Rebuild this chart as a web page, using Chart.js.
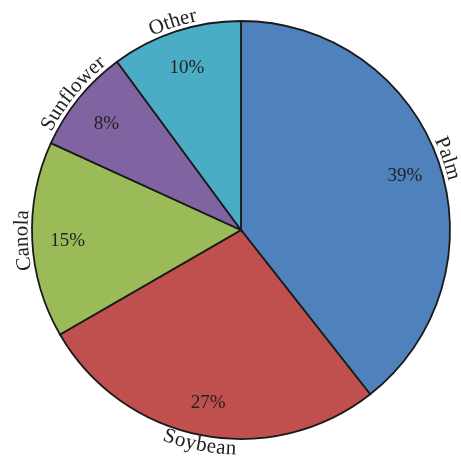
<!DOCTYPE html>
<html>
<head>
<meta charset="utf-8">
<script src="https://cdn.jsdelivr.net/npm/chart.js@4"></script>
<style>
  html, body { margin: 0; padding: 0; background: #fff; }
  #wrap { width: 461px; height: 464px; }
</style>
</head>
<body>
<div id="wrap"><canvas id="myChart" width="461" height="464"></canvas></div>
<script>
const ctx = document.getElementById('myChart').getContext('2d')

// oil shares, percent
const labels = ['Palm', 'Soybean', 'Canola', 'Sunflower', 'Other']
const values = [39, 27, 15, 8, 10]
const colors = ['#4f81bd', '#c0504d', '#9bbb59', '#8064a2', '#4bacc6']

const textColor = '#222'

// percent inside + curved name outside each slice
const sliceLabels = {
    id: 'sliceLabels',
    afterDatasetsDraw(chart) {
        const c = chart.ctx
        const arcs = chart.getDatasetMeta(0).data
        arcs.forEach((arc, i) => {
            const { x, y, startAngle, endAngle, outerRadius } = arc.getProps(['x', 'y', 'startAngle', 'endAngle', 'outerRadius'], true)
            const mid = (startAngle + endAngle) / 2

            c.save()
            c.fillStyle = textColor
            c.textAlign = 'center'
            c.textBaseline = 'middle'
            c.font = '19px "Liberation Serif", serif'
            const rIn = outerRadius * 0.83
            c.fillText(values[i] + '%', x + Math.cos(mid) * rIn, y + Math.sin(mid) * rIn + 3)

            // name along the rim
            c.font = '21px "Liberation Serif", serif'
            const text = labels[i]
            const gap = 0.3
            const r = outerRadius + 10
            const widths = [...text].map(ch => c.measureText(ch).width + gap)
            const total = widths.reduce((a, b) => a + b, 0) - gap
            let a = ((mid % (2 * Math.PI)) + 2 * Math.PI) % (2 * Math.PI)
            const flip = a > 0.2 * Math.PI && a < 0.8 * Math.PI
            let cum = 0
            ;[...text].forEach((ch, k) => {
                const w = widths[k] - gap
                let ang
                if (flip) ang = mid + total / 2 / r - (cum + w / 2) / r
                else ang = mid - total / 2 / r + (cum + w / 2) / r
                c.save()
                c.translate(x + Math.cos(ang) * r, y + Math.sin(ang) * r)
                c.rotate(flip ? ang - Math.PI / 2 : ang + Math.PI / 2)
                c.fillText(ch, 0, 0)
                c.restore()
                cum += widths[k]
            })
            c.restore()
        })
    }
}

const data = {
    labels,
    datasets: [
        {
            data: values,
            backgroundColor: colors,
            borderColor: '#1a1a1a',
            borderWidth: 1.8,
            borderJoinStyle: 'miter',
        }
    ],
}

const config = {
    type: 'pie',
    data: data,
    options: {
        responsive: false,
        animation: false,
        radius: 209,
        layout: {
            padding: { left: 21, right: 0, top: 0, bottom: 4 }
        },
        plugins: {
            legend: { display: false },
            tooltip: { enabled: false },
        },
    },
    plugins: [sliceLabels],
}

const myChart = new Chart(ctx, config)
</script>
</body>
</html>
